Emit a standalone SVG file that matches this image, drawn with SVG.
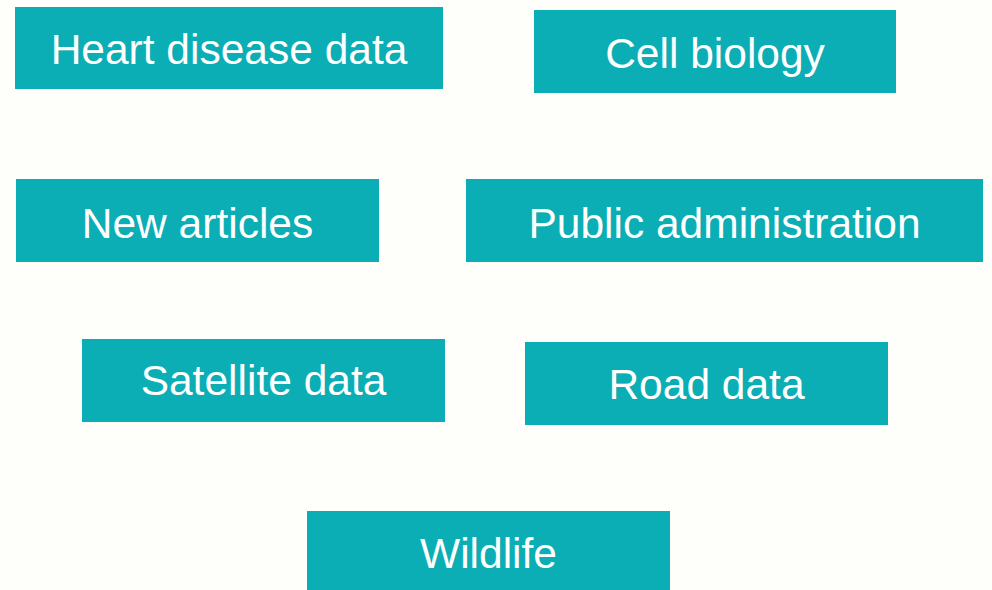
<svg xmlns="http://www.w3.org/2000/svg" width="992" height="590" viewBox="0 0 992 590">
<style>
.box{fill:#0BAEB5}
.lbl{fill:#FFFFFF;font-family:"Liberation Sans",Arial,sans-serif;font-size:42.5px;text-anchor:middle}
</style>
<rect x="0" y="0" width="992" height="590" fill="#FEFEFA"/>
<g id="connectors"/>
<g id="heart"><rect class="box" x="15" y="7" width="428" height="82"/><text class="lbl" x="229" y="64">Heart disease data</text></g>
<g id="cell"><rect class="box" x="534" y="10" width="362" height="83"/><text class="lbl" x="715" y="68">Cell biology</text></g>
<g id="news"><rect class="box" x="16" y="179" width="363" height="83"/><text class="lbl" x="197.5" y="238">New articles</text></g>
<g id="public"><rect class="box" x="466" y="179" width="517" height="83"/><text class="lbl" x="724.5" y="238">Public administration</text></g>
<g id="satellite"><rect class="box" x="82" y="339" width="363" height="83"/><text class="lbl" x="263.5" y="395">Satellite data</text></g>
<g id="road"><rect class="box" x="525" y="342" width="363" height="83"/><text class="lbl" x="706.5" y="399">Road data</text></g>
<g id="wildlife"><rect class="box" x="307" y="511" width="363" height="80"/><text class="lbl" x="488.5" y="568">Wildlife</text></g>
</svg>
